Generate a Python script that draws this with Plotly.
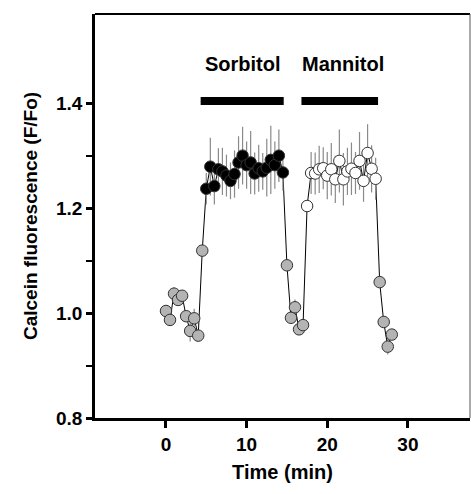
import plotly.graph_objects as go

# --- data ---
pre_t = [0, 0.5, 1, 1.5, 2, 2.5, 3, 3.5, 4, 4.5]
pre_v = [1.004, 0.987, 1.037, 1.025, 1.033, 0.994, 0.966, 0.990, 0.957, 1.119]
pre_e = [0.010, 0.008, 0.012, 0.010, 0.010, 0.010, 0.020, 0.018, 0.010, 0.010]

sorb_t = [5, 5.5, 6, 6.5, 7, 7.5, 8, 8.5, 9, 9.5, 10, 10.5, 11, 11.5, 12, 12.5, 13, 13.5, 14, 14.5]
sorb_v = [1.237, 1.279, 1.242, 1.274, 1.270, 1.262, 1.252, 1.265, 1.287, 1.300,
          1.282, 1.287, 1.266, 1.276, 1.270, 1.277, 1.292, 1.282, 1.300, 1.268]
sorb_e = [0.030, 0.055, 0.035, 0.040, 0.045, 0.040, 0.035, 0.045, 0.050, 0.055,
          0.045, 0.060, 0.040, 0.045, 0.035, 0.055, 0.065, 0.045, 0.050, 0.035]

wash1_t = [15, 15.5, 16, 16.5, 17]
wash1_v = [1.091, 0.991, 1.011, 0.969, 0.977]
wash1_e = [0.010, 0.010, 0.015, 0.010, 0.010]

mann_t = [17.5, 18, 18.5, 19, 19.5, 20, 20.5, 21, 21.5, 22, 22.5, 23, 23.5, 24, 24.5, 25, 25.5, 26]
mann_v = [1.204, 1.267, 1.266, 1.274, 1.276, 1.262, 1.274, 1.255, 1.290, 1.255,
          1.270, 1.275, 1.267, 1.290, 1.252, 1.305, 1.275, 1.256]
mann_e = [0.010, 0.040, 0.040, 0.045, 0.040, 0.045, 0.050, 0.045, 0.060, 0.050,
          0.045, 0.050, 0.040, 0.055, 0.040, 0.055, 0.045, 0.040]

wash2_t = [26.5, 27, 27.5, 28]
wash2_v = [1.059, 0.983, 0.936, 0.959]
wash2_e = [0.010, 0.010, 0.015, 0.010]

treat_labels = ["Sorbitol", "Mannitol"]
treat_start = [4.3, 16.8]
treat_end = [14.6, 26.3]
label_x = [9.5, 22.0]
treat_level = 1.404
label_level = 1.474

x_ticks = [0, 10, 20, 30]
y_ticks = [0.8, 1.0, 1.2, 1.4]

FONT = "Liberation Sans, Arial, sans-serif"

fig = go.Figure()

all_t = pre_t + sorb_t + wash1_t + mann_t + wash2_t
all_v = pre_v + sorb_v + wash1_v + mann_v + wash2_v
fig.add_trace(go.Scatter(x=all_t, y=all_v, mode="lines",
                         line=dict(color="black", width=1), hoverinfo="skip"))

def pts(t, v, e, fill):
    fig.add_trace(go.Scatter(
        x=t, y=v, mode="markers",
        marker=dict(size=11.5, color=fill, line=dict(color="#333333", width=1)),
        error_y=dict(type="data", array=e, visible=True, color="#8a8a8a",
                     thickness=1.2, width=0)))

pts(pre_t, pre_v, pre_e, "#b4b4b4")
pts(wash1_t, wash1_v, wash1_e, "#b4b4b4")
pts(wash2_t, wash2_v, wash2_e, "#b4b4b4")
pts(sorb_t, sorb_v, sorb_e, "black")
pts(mann_t, mann_v, mann_e, "white")

for lab, s, e, lx in zip(treat_labels, treat_start, treat_end, label_x):
    fig.add_shape(type="line", xref="x", yref="y", x0=s, x1=e,
                  y0=treat_level, y1=treat_level,
                  line=dict(color="black", width=8))
    fig.add_annotation(x=lx, y=label_level, xref="x", yref="y",
                       text=f"<b>{lab}</b>", showarrow=False,
                       font=dict(family=FONT, size=20, color="black"))

# frame top / right
fig.add_shape(type="line", xref="paper", yref="paper", x0=0, x1=1, y0=1, y1=1,
              line=dict(color="black", width=2))
fig.add_shape(type="line", xref="paper", yref="paper", x0=1, x1=1, y0=0, y1=1,
              line=dict(color="#555555", width=1))

fig.update_layout(
    width=471, height=494,
    margin=dict(l=95, r=1, t=14, b=76),
    plot_bgcolor="white", paper_bgcolor="white",
    showlegend=False,
    font=dict(family=FONT, color="black"),
    xaxis=dict(range=[-8.8, 37.7], tickvals=x_ticks, ticks="outside",
               ticklen=7, tickwidth=2.5, tickcolor="black",
               showline=True, linewidth=2.5, linecolor="black",
               showgrid=False, zeroline=False,
               tickfont=dict(family=FONT, size=19, weight="bold"),
               title=dict(text="<b>Time (min)</b>", font=dict(family=FONT, size=20),
                          standoff=12)),
    yaxis=dict(range=[0.8, 1.57], tickvals=y_ticks, tickformat=".1f",
               ticks="outside", ticklen=6, tickwidth=2.5, tickcolor="black",
               showline=True, linewidth=2.5, linecolor="black",
               showgrid=False, zeroline=False,
               minor=dict(tickvals=[0.9, 1.1, 1.3], ticks="outside", ticklen=6,
                          tickwidth=2, tickcolor="black"),
               tickfont=dict(family=FONT, size=19, weight="bold"),
               title=dict(text="<b>Calcein fluorescence (F/Fo)</b>",
                          font=dict(family=FONT, size=19), standoff=14)),
)

fig.write_html("out.html")
